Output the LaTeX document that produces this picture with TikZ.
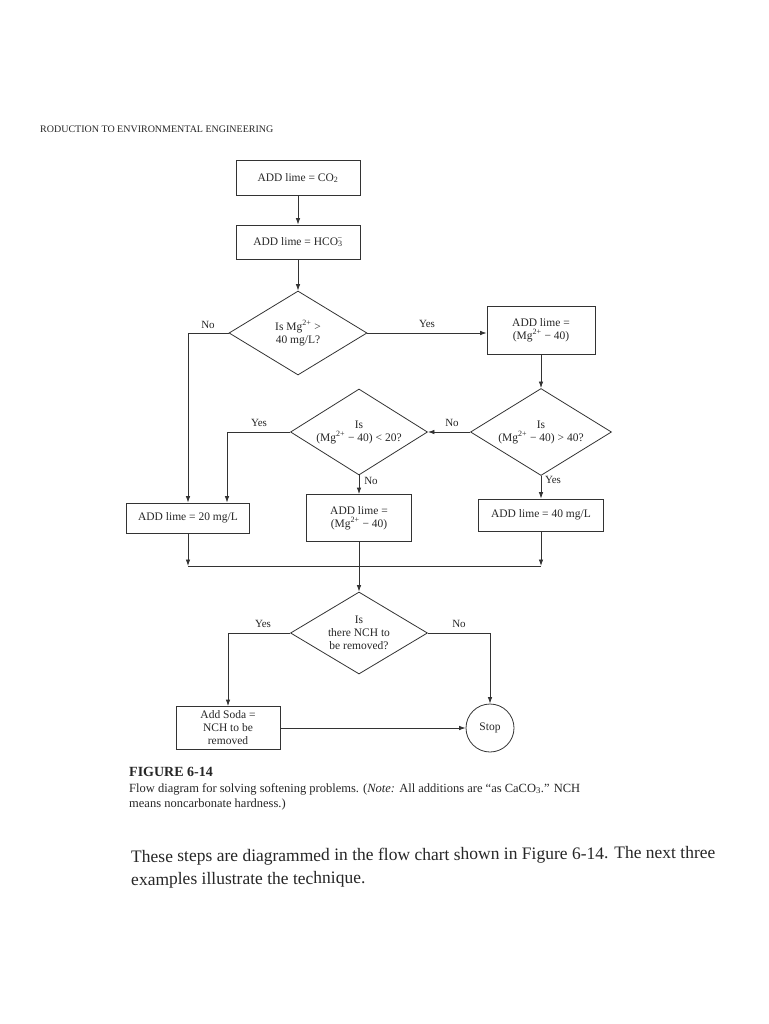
\documentclass[tikz,border=0pt]{standalone}
\usepackage{fontspec}
\setmainfont{Liberation Serif}
\usetikzlibrary{shapes.geometric,arrows.meta}
\begin{document}
\begin{tikzpicture}[x=1pt,y=-1pt,
  every node/.style={text=black!85},
  flowbox/.style={draw=black!80, line width=0.8pt, rectangle, inner sep=0pt, align=center, font=\fontsize{11.5}{13}\selectfont},
  decision/.style={draw=black!80, line width=0.8pt, diamond, shape aspect=1.6, inner sep=0pt, align=center, font=\fontsize{11.5}{13}\selectfont},
  stopnode/.style={draw=black!80, line width=0.8pt, circle, inner sep=0pt, minimum size=48pt, font=\fontsize{11.5}{13}\selectfont},
  flowline/.style={draw=black!80, line width=0.8pt},
  arr/.style={flowline, -{Latex[length=6.5pt,width=4.5pt]}},
  lbl/.style={font=\fontsize{11}{13}\selectfont, inner sep=1pt},
  capfont/.style={anchor=west, inner sep=0pt, font=\fontsize{12.5}{15}\selectfont},
  bodyfont/.style={anchor=west, inner sep=0pt, font=\fontsize{17.5}{21}\selectfont, rotate=0.4},
]
\fill[white] (0,0) rectangle (768,1024);
\useasboundingbox (0,0) rectangle (768,1024);

% header
\node[anchor=west, inner sep=0pt, font=\fontsize{10}{12}\selectfont] (hdr) at (40,129) {RODUCTION TO ENVIRONMENTAL ENGINEERING};

% flowchart nodes
\node[flowbox, minimum width=124pt, minimum height=35pt] (b1) at (298,178) {ADD lime = CO\textsubscript{2}};
\node[flowbox, minimum width=124pt, minimum height=34pt] (b2) at (298,242) {ADD lime = HCO\textsubscript{3}\llap{\textsuperscript{−}}};
\node[decision, minimum width=138pt, minimum height=84pt] (d1) at (298,333) {Is Mg\textsuperscript{2+} >\\40 mg/L?};
\node[flowbox, minimum width=108pt, minimum height=48pt] (b3) at (541,330) {ADD lime =\\(Mg\textsuperscript{2+} − 40)};
\node[decision, minimum width=141pt, minimum height=87pt] (d2) at (541,432) {Is\\(Mg\textsuperscript{2+} − 40) > 40?};
\node[decision, minimum width=137pt, minimum height=86pt] (d3) at (359,432) {Is\\(Mg\textsuperscript{2+} − 40) < 20?};
\node[flowbox, minimum width=123pt, minimum height=30pt] (bL) at (188,518) {ADD lime = 20 mg/L};
\node[flowbox, minimum width=105pt, minimum height=47pt] (bM) at (359,518) {ADD lime =\\(Mg\textsuperscript{2+} − 40)};
\node[flowbox, minimum width=125pt, minimum height=32pt] (bR) at (541,515) {ADD lime = 40 mg/L};
\node[decision, minimum width=137pt, minimum height=82pt] (d4) at (359,633) {Is\\there NCH to\\be removed?};
\node[flowbox, minimum width=104pt, minimum height=43pt] (bS) at (228,728) {Add Soda =\\NCH to be\\removed};
\node[stopnode] (stop) at (490,728) {Stop};

% bend points
\coordinate (c1) at (188,333);
\coordinate (c2) at (227,432);
\coordinate (m1) at (188,566);
\coordinate (m2) at (541,566);
\coordinate (c3) at (228,633);
\coordinate (c4) at (490,633);

% connectors
\draw[arr] (b1) -- (b2);
\draw[arr] (b2) -- (d1);
\draw[arr] (d1.west) -- (c1) -- (c1 |- bL.north);
\draw[arr] (d1.east) -- (d1.east -| b3.west);
\draw[arr] (b3) -- (d2);
\draw[arr] (d2.west) -- (d3.east);
\draw[arr] (d3.west) -- (c2) -- (c2 |- bL.north);
\draw[arr] (d3) -- (bM);
\draw[arr] (d2) -- (bR);
\draw[arr] (bL.south) -- (m1);
\draw[arr] (bR.south) -- (m2);
\draw[flowline] (m1) -- (m2);
\draw[arr] (bM) -- (d4);
\draw[arr] (d4.west) -- (c3) -- (bS.north);
\draw[arr] (d4.east) -- (c4) -- (stop.north);
\draw[arr] (bS.east) -- (stop.west);

% labels
\node[lbl] (l1) at (208,325) {No};
\node[lbl] (l2) at (427,324) {Yes};
\node[lbl] (l3) at (452,423) {No};
\node[lbl] (l4) at (259,423) {Yes};
\node[lbl] (l5) at (371,481) {No};
\node[lbl] (l6) at (553,480) {Yes};
\node[lbl] (l7) at (263,624) {Yes};
\node[lbl] (l8) at (459,624) {No};

% caption
\node[anchor=west, inner sep=0pt, font=\bfseries\fontsize{14}{16}\selectfont] (fig) at (129,772) {FIGURE 6-14};
\node[capfont] (cap1) at (129,789) {Flow diagram for solving softening problems. (\textit{Note:} All additions are “as CaCO\textsubscript{3}.” NCH};
\node[capfont] (cap2) at (129,804) {means noncarbonate hardness.)};

% body text
\node[bodyfont] (body1) at (131,858) {These steps are diagrammed in the flow chart shown in Figure 6-14. The next three};
\node[bodyfont] (body2) at (131,881) {examples illustrate the technique.};
\end{tikzpicture}
\end{document}
